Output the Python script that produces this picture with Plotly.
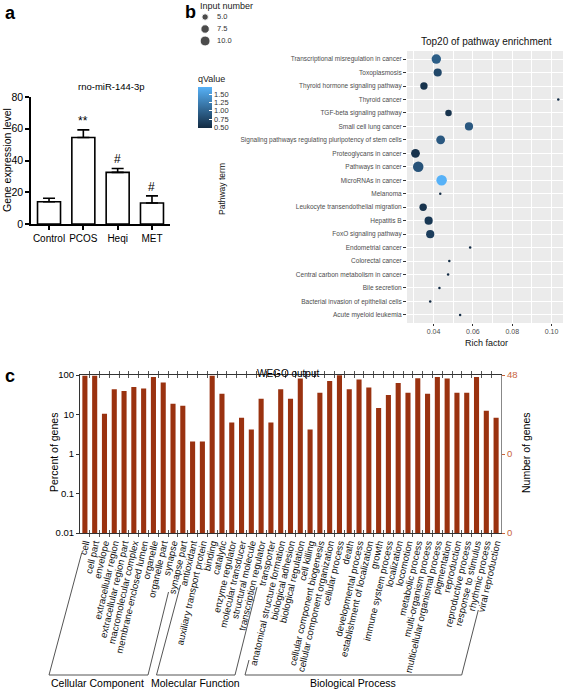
import plotly.graph_objects as go

W, H = 567, 690
def px(x): return x / W
def py(y): return 1 - y / H

# ---------------- Panel a data ----------------
a_groups = ["Control", "PCOS", "Heqi", "MET"]
a_values = [14, 54.5, 32.5, 13.2]
a_errors = [2.2, 4.8, 2.5, 4.5]
a_marks = ["", "**", "#", "#"]
a_title = "rno-miR-144-3p"

# ---------------- Panel b data ----------------
b_terms = [
    "Transcriptional misregulation in cancer", "Toxoplasmosis",
    "Thyroid hormone signaling pathway", "Thyroid cancer",
    "TGF-beta signaling pathway", "Small cell lung cancer",
    "Signaling pathways regulating pluripotency of stem cells",
    "Proteoglycans in cancer", "Pathways in cancer", "MicroRNAs in cancer",
    "Melanoma", "Leukocyte transendothelial migration", "Hepatitis B",
    "FoxO signaling pathway", "Endometrial cancer", "Colorectal cancer",
    "Central carbon metabolism in cancer", "Bile secretion",
    "Bacterial invasion of epithelial cells", "Acute myeloid leukemia",
]
b_rich = [0.0414, 0.0421, 0.0351, 0.1034, 0.0476, 0.0580, 0.0436, 0.0308,
          0.0322, 0.0441, 0.0434, 0.0347, 0.0375, 0.0383, 0.0586, 0.0480,
          0.0474, 0.0430, 0.0383, 0.0535]
b_input = [9, 7, 6, 3, 5, 7, 8, 8, 11, 11, 3, 6, 7, 7, 3, 3, 3, 3, 3, 3]
b_qvalue = [0.95, 0.75, 0.55, 0.50, 0.55, 0.90, 0.90, 0.55, 0.85, 1.72,
            0.50, 0.55, 0.60, 0.65, 0.50, 0.50, 0.50, 0.50, 0.48, 0.50]
b_size_keys = [5.0, 7.5, 10.0]
b_q_ticks = [0.50, 0.75, 1.00, 1.25, 1.50]

# ---------------- Panel c data ----------------
c_terms = [
    "cell", "cell part", "envelope", "extracellular region",
    "extracellular region part", "macromolecular complex",
    "membrane-enclosed lumen", "organelle", "organelle part", "synapse",
    "synapse part",
    "antioxidant", "auxiliary transport protein", "binding", "catalytic",
    "enzyme regulator", "molecular transducer", "structural molecule",
    "transcription regulator", "transporter",
    "anatomical structure formation", "biological adhesion",
    "biological regulation", "cell killing", "cellular component biogenesis",
    "cellular component organization", "cellular process", "death",
    "developmental process", "establishment of localization", "growth",
    "immune system process", "localization", "locomotion",
    "metabolic process", "multi-organism process",
    "multicellular organismal process", "pigmentation", "reproduction",
    "reproductive process", "response to stimulus", "rhythmic process",
    "viral reproduction",
]
c_counts = [46, 46, 5, 21, 19, 24, 22, 43, 31, 9, 8,
            1, 1, 46, 16, 3, 4, 2, 12, 3,
            21, 12, 39, 2, 17, 34, 47, 21, 37, 23, 7, 15, 30, 17, 40, 16,
            43, 39, 17, 17, 43, 6, 4]
c_total = 48
c_groups = ["Cellular Component", "Molecular Function", "Biological Process"]
c_percent = [n / c_total * 100 for n in c_counts]

fig = go.Figure()

# ---- Panel a ----
fig.add_trace(go.Bar(
    x=a_groups, y=a_values, width=0.67,
    marker=dict(color="white", line=dict(color="black", width=1.6)),
    error_y=dict(type="data", array=a_errors, arrayminus=[0] * 4,
                 symmetric=False, color="black", thickness=1.6, width=6),
    xaxis="x", yaxis="y", showlegend=False,
))

# ---- Panel b ----
qmin, qmax = min(b_qvalue), max(b_qvalue)
nmin, nmax = min(b_input), max(b_input)
def dot(n):
    return 2.5 + 8.0 * (max(n - nmin, 0) / (nmax - nmin)) ** 0.5

fig.add_trace(go.Scatter(
    x=b_rich, y=b_terms, mode="markers",
    marker=dict(size=[dot(n) for n in b_input], color=b_qvalue,
                cmin=qmin, cmax=qmax,
                colorscale=[[0, "#132B43"], [1, "#56B1F7"]],
                line=dict(width=0), opacity=1,
                colorbar=dict(
                    x=px(198), xanchor="left", y=py(72), yanchor="top",
                    len=56, lenmode="pixels", thickness=14,
                    thicknessmode="pixels", xpad=0, ypad=0,
                    outlinewidth=0, tickvals=b_q_ticks, tickformat=".2f",
                    ticks="inside", tickcolor="white", ticklen=3,
                    tickfont=dict(size=7.5, color="#333333"),
                    title=dict(text="qValue", side="top",
                               font=dict(size=9, color="#222222")),
                )),
    xaxis="x2", yaxis="y2", showlegend=False,
))

# size key
fig.add_trace(go.Scatter(
    x=[1] * len(b_size_keys), y=list(range(len(b_size_keys))), mode="markers",
    marker=dict(size=[dot(v) for v in b_size_keys], color="black"),
    xaxis="x4", yaxis="y5", showlegend=False, hoverinfo="skip",
))

# ---- Panel c ----
fig.add_trace(go.Bar(
    x=c_terms, y=c_percent, width=0.52,
    marker=dict(color="#9A3210", line=dict(width=0)),
    xaxis="x3", yaxis="y3", showlegend=False,
))
fig.add_trace(go.Scatter(x=[c_terms[0]], y=[None], xaxis="x3", yaxis="y4",
                         showlegend=False, hoverinfo="skip"))

ann = []
shapes = []

def note(text, x, y, size, xanchor="center", yanchor="middle", angle=0,
         color="black", family=None, xref="paper", yref="paper"):
    f = dict(size=size, color=color)
    if family:
        f["family"] = family
    ann.append(dict(text=text, x=x, y=y, xref=xref, yref=yref,
                    xanchor=xanchor, yanchor=yanchor, textangle=angle,
                    showarrow=False, font=f))

# panel letters
for letter, x, y in [("a", 3, 1), ("b", 183, 0), ("c", 3, 364)]:
    note(f"<b>{letter}</b>", px(x), py(y), 18, xanchor="left", yanchor="top")

# panel a texts
note(a_title, px(111), py(86), 9.5)
note("Gene expression level", px(7), py(160), 10.5, angle=-90)
for g, v, e, m in zip(a_groups, a_values, a_errors, a_marks):
    if m:
        note(m, g, v + e, 12, yanchor="bottom", xref="x", yref="y")

# panel b texts
note("Top20 of pathway enrichment", px(486), py(42), 10, color="#111111")
note("Rich factor", px(486), py(343), 9, color="#111111")
note("Pathway term", px(222), py(189), 8.5, angle=-90, color="#111111")
note("Input number", px(198), py(6), 9, xanchor="left", color="#222222")
for i, v in enumerate(b_size_keys):
    note(f"{v:.1f}", 2.6, i, 7.5, xanchor="left", color="#333333",
         xref="x4", yref="y5")

# panel c texts
note("WEGO output", px(288), py(373), 10)
note("Percent of genes", px(54), py(453), 10.5, angle=-90)
note("Number of genes", px(526), py(453), 10.5, angle=-90)
for name, xc in zip(c_groups, [97.5, 195.5, 352.5]):
    note(name, px(xc), py(683), 10.5)

brackets = [
    [(81.7, 553), (49, 675), (148, 675), (168.5, 592)],
    [(180.5, 585), (156.5, 675), (235, 675), (257, 587)],
    [(249, 660), (245, 675), (461.7, 675), (478.3, 610)],
]
for pts in brackets:
    path = "M " + " L ".join(f"{px(x)},{py(y)}" for x, y in pts)
    shapes.append(dict(type="path", path=path, xref="paper", yref="paper",
                       line=dict(color="#555555", width=1)))

# panel b background
shapes.append(dict(type="rect", xref="x2 domain", yref="y2 domain", x0=0,
                   x1=1, y0=0, y1=1, fillcolor="#EBEBEB", line=dict(width=0),
                   layer="below"))

fig.update_layout(
    width=W, height=H, margin=dict(l=0, r=0, t=0, b=0),
    template="none", paper_bgcolor="white", plot_bgcolor="rgba(0,0,0,0)",
    font=dict(family="Liberation Sans, Arial, sans-serif", color="black"),
    annotations=ann, shapes=shapes, showlegend=False,
    xaxis=dict(domain=[px(31), px(170)], anchor="y", range=[-0.525, 3.525],
               showline=True, linecolor="black", linewidth=1.6,
               ticks="outside", ticklen=4, tickwidth=1.6, tickcolor="black",
               showgrid=False, zeroline=False, tickangle=0,
               tickfont=dict(size=10)),
    yaxis=dict(domain=[py(224), py(97)], anchor="x", range=[0, 80], dtick=20,
               showline=True, linecolor="black", linewidth=1.6,
               ticks="outside", ticklen=4, tickwidth=1.6, tickcolor="black",
               showgrid=False, zeroline=False,
               tickfont=dict(size=10.5)),
    xaxis2=dict(domain=[px(407), px(563)], anchor="y2",
                range=[0.0265, 0.1058], tickvals=[0.04, 0.06, 0.08, 0.10],
                tickformat=".2f", showgrid=True, gridcolor="white",
                gridwidth=1, zeroline=False, showline=False,
                ticks="outside", ticklen=2, tickcolor="#333333",
                tickfont=dict(size=7, color="#4D4D4D"),
                minor=dict(tickvals=[0.03, 0.05, 0.07, 0.09, 0.11],
                           showgrid=True, gridcolor="white", gridwidth=0.5)),
    yaxis2=dict(domain=[py(323), py(51)], anchor="x2", type="category",
                categoryorder="array", categoryarray=b_terms,
                tickmode="array", tickvals=b_terms,
                range=[19.6, -0.6], showgrid=True, gridcolor="white",
                gridwidth=1, zeroline=False, showline=False,
                ticks="outside", ticklen=3, tickcolor="#333333",
                tickfont=dict(size=6.5, color="#4D4D4D")),
    xaxis3=dict(domain=[px(80), px(501)], anchor="y3", type="category",
                tickmode="array", tickvals=c_terms, ticktext=c_terms,
                range=[-0.5, 42.5], tickangle=-77, showline=True,
                linecolor="#333333", linewidth=1, mirror="allticks",
                ticks="inside", ticklen=3, tickcolor="#555555",
                tickson="boundaries",
                showgrid=False, zeroline=False,
                tickfont=dict(size=9.5, color="#111111")),
    yaxis3=dict(domain=[py(533), py(375)], anchor="x3", type="log",
                range=[-2, 2], tickvals=[100, 10, 1, 0.1, 0.01],
                ticktext=["100", "10", "1", "0.1", "0.01"],
                showline=True, linecolor="#333333", linewidth=1,
                ticks="outside", ticklen=3, tickcolor="#333333",
                showgrid=False, zeroline=False, tickfont=dict(size=9.5)),
    yaxis4=dict(overlaying="y3", side="right", anchor="x3", type="log",
                range=[-2, 2], tickvals=[100, 1, 0.01],
                ticktext=[str(c_total), "0", "0"], showline=True,
                linecolor="#888888", linewidth=1, ticks="outside",
                ticklen=3, tickcolor="#C8643C", showgrid=False,
                zeroline=False, tickfont=dict(size=9.5, color="#C8643C")),
    xaxis4=dict(domain=[px(199), px(260)], anchor="y5", range=[0, 10],
                visible=False),
    yaxis5=dict(domain=[py(47), py(11)], anchor="x4", range=[2.5, -0.5],
                visible=False),
)

fig.write_html(
    "out.html",
    config={"displayModeBar": False},
    post_script="document.body.style.margin='0px';"
                "document.body.style.padding='0px';"
                "document.body.style.overflow='hidden';",
)
